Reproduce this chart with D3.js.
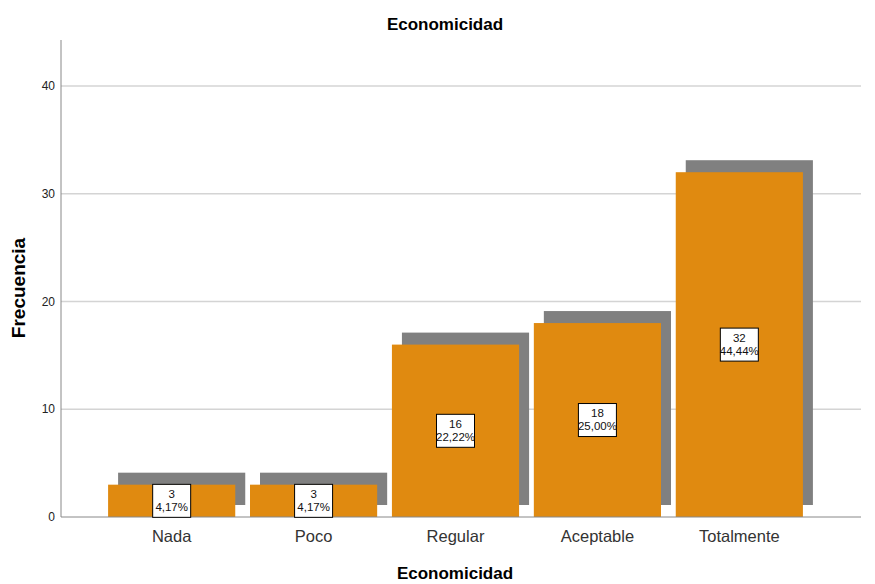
<!DOCTYPE html>
<html>
<head>
<meta charset="utf-8">
<script src="https://cdn.jsdelivr.net/npm/d3@7"></script>
<style>
  body { margin: 0; background: #fff; }
  text { font-family: "Liberation Sans", Arial, sans-serif; }
</style>
</head>
<body>
<svg id="chart"></svg>
<script>
// chart data
const categories = ['Nada', 'Poco', 'Regular', 'Aceptable', 'Totalmente'];
const counts = [3, 3, 16, 18, 32];
const percents = ['4,17%', '4,17%', '22,22%', '25,00%', '44,44%'];
const yTicks = [0, 10, 20, 30, 40];

const width = 875;
const height = 584;

const svg = d3.select('#chart')
    .attr('width', width)
    .attr('height', height);

// plot area edges
const plotLeft = 61, plotRight = 861, plotTop = 40, plotBottom = 517;

const x = d3.scaleBand()
    .domain(categories)
    .range([101, 810])
    .paddingInner(0.104)
    .paddingOuter(0.05);

const y = d3.scaleLinear()
    .domain([0, 44.27])
    .range([plotBottom, plotTop]);

// shadow offset
const dx = 10, dy = -12;

// gridlines
svg.selectAll('.grid')
    .data(yTicks.filter(d => d > 0))
    .enter()
    .append('line')
    .attr('x1', plotLeft)
    .attr('x2', plotRight)
    .attr('y1', d => y(d))
    .attr('y2', d => y(d))
    .attr('stroke', '#d4d4d4')
    .attr('stroke-width', 1.5);

// grey shadow bars
svg.selectAll('.shadow')
    .data(counts)
    .enter()
    .append('rect')
    .attr('x', (d, i) => x(categories[i]) + dx)
    .attr('y', d => y(d) + dy)
    .attr('width', x.bandwidth())
    .attr('height', d => y(0) - y(d))
    .attr('fill', '#808080');

// orange bars
svg.selectAll('.bar')
    .data(counts)
    .enter()
    .append('rect')
    .attr('x', (d, i) => x(categories[i]))
    .attr('y', d => y(d))
    .attr('width', x.bandwidth())
    .attr('height', d => y(0) - y(d))
    .attr('fill', '#e08a10');

// axes lines
svg.append('line')
    .attr('x1', plotLeft).attr('x2', plotLeft)
    .attr('y1', plotTop).attr('y2', plotBottom)
    .attr('stroke', '#888').attr('stroke-width', 1);
svg.append('line')
    .attr('x1', plotLeft).attr('x2', plotRight)
    .attr('y1', plotBottom).attr('y2', plotBottom)
    .attr('stroke', '#888').attr('stroke-width', 1);

// value labels
const labels = svg.selectAll('.lbl')
    .data(counts)
    .enter()
    .append('g')
    .attr('transform', (d, i) => `translate(${x(categories[i]) + x.bandwidth() / 2}, ${(y(0) + y(d)) / 2})`);

labels.append('rect')
    .attr('x', -19)
    .attr('y', -16.5)
    .attr('width', 38)
    .attr('height', 33)
    .attr('fill', '#fff')
    .attr('stroke', '#000')
    .attr('stroke-width', 1);

labels.append('text')
    .attr('y', -3)
    .attr('text-anchor', 'middle')
    .attr('font-size', 11.5)
    .attr('fill', '#111')
    .text(d => d);

labels.append('text')
    .attr('y', 10)
    .attr('text-anchor', 'middle')
    .attr('font-size', 11.5)
    .attr('fill', '#111')
    .text((d, i) => percents[i]);

// y tick labels
svg.selectAll('.ytick')
    .data(yTicks)
    .enter()
    .append('text')
    .attr('x', 55)
    .attr('y', d => y(d) + 4)
    .attr('text-anchor', 'end')
    .attr('font-size', 12)
    .attr('fill', '#222')
    .text(d => d);

// x tick labels
svg.selectAll('.xtick')
    .data(categories)
    .enter()
    .append('text')
    .attr('x', d => x(d) + x.bandwidth() / 2)
    .attr('y', 542)
    .attr('text-anchor', 'middle')
    .attr('font-size', 16.5)
    .attr('fill', '#333')
    .text(d => d);

// titles
svg.append('text')
    .attr('x', 445)
    .attr('y', 30)
    .attr('text-anchor', 'middle')
    .attr('font-size', 17)
    .attr('font-weight', 'bold')
    .text('Economicidad');

svg.append('text')
    .attr('x', 455)
    .attr('y', 579)
    .attr('text-anchor', 'middle')
    .attr('font-size', 17)
    .attr('font-weight', 'bold')
    .text('Economicidad');

svg.append('text')
    .attr('transform', 'translate(25, 288) rotate(-90)')
    .attr('text-anchor', 'middle')
    .attr('font-size', 19)
    .attr('font-weight', 'bold')
    .text('Frecuencia');
</script>
</body>
</html>
